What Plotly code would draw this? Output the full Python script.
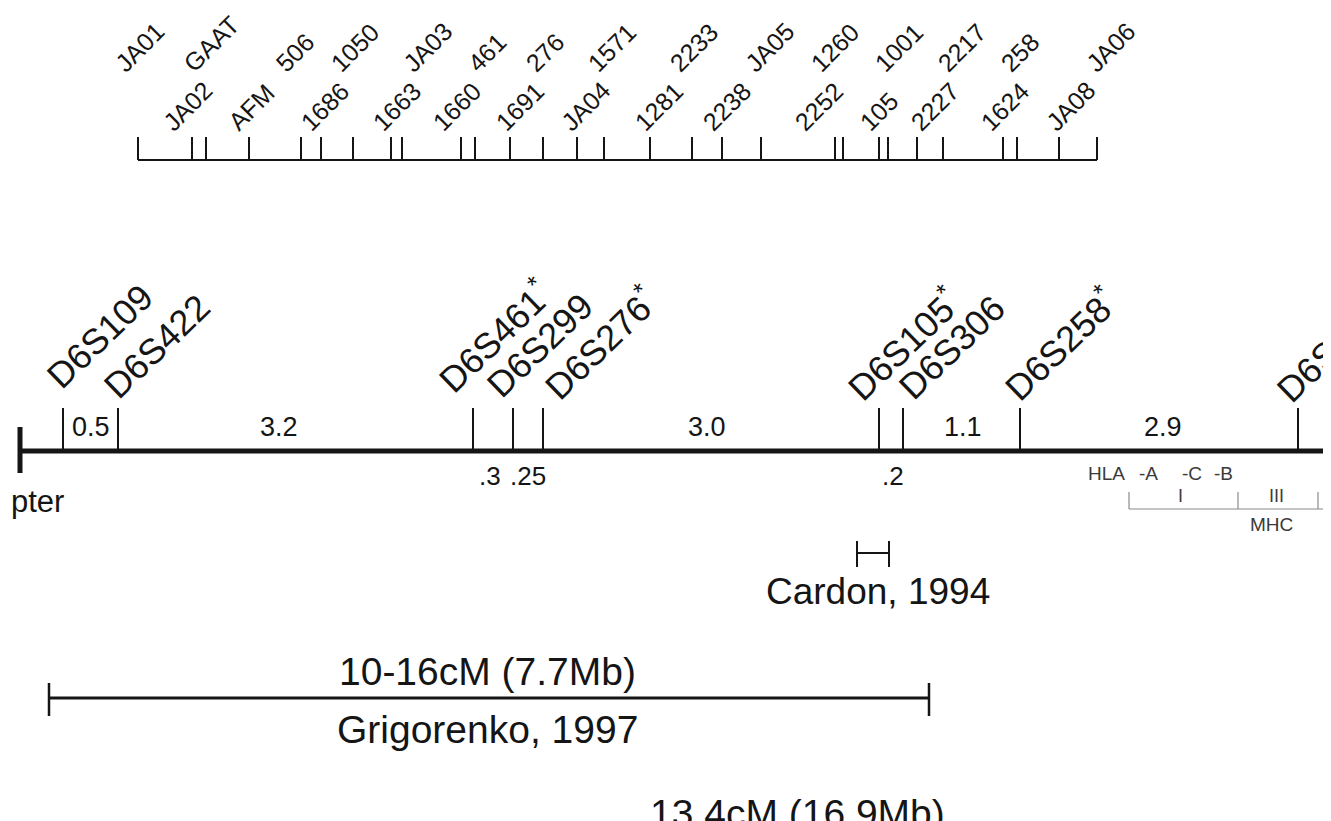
import math
import plotly.graph_objects as go

# ---------------- data ----------------
# physical map (top ruler): marker names in order, positions along the map
ruler_markers = ["JA01", "JA02", "GAAT", "AFM", "506", "1686", "1050", "1663", "JA03",
                 "1660", "461", "1691", "276", "JA04", "1571", "1281", "2233", "2238",
                 "JA05", "2252", "1260", "105", "1001", "2227", "2217", "1624", "258",
                 "JA08", "JA06"]
ruler_pos = [138, 192, 206, 249, 301, 321, 353, 391, 402, 461, 475, 510, 543, 577, 604,
             650, 692, 722, 761, 835, 843, 879, 888, 917, 943, 1003, 1017, 1059, 1097]

# genetic map (main chromosome line)
main_markers = ["D6S109", "D6S422", "D6S461<sup>*</sup>", "D6S299", "D6S276<sup>*</sup>",
                "D6S105<sup>*</sup>", "D6S306", "D6S258<sup>*</sup>", "D6S273"]
main_pos = [63, 118, 473, 513, 543, 879, 903, 1020, 1298]

interval_cm = ["0.5", "3.2", "3.0", "1.1", "2.9"]
small_gap_cm = [".3", ".25", ".2"]

hla_genes = ["HLA", "-A", "-C", "-B"]
mhc_classes = ["I", "III"]
mhc_bounds = [1129, 1238, 1318]

cardon_span = [857, 889]
grigorenko_span = [49, 929]
study_texts = ["Cardon, 1994", "10-16cM (7.7Mb)", "Grigorenko, 1997", "13.4cM (16.9Mb)"]

# ---------------- layout helpers (positions / styles) ----------------
ruler_label_x = [117, 165, 185, 230, 278, 303, 333, 375, 405, 435, 470, 498, 528, 563, 590,
                 637, 672, 705, 747, 797, 813, 862, 877, 913, 940, 983, 1003, 1048, 1088]
ruler_label_y = [70 if i % 2 == 0 else 129 for i in range(len(ruler_markers))]
main_label_x = [50, 107, 439, 490, 545, 848, 902, 1005, 1280]
main_label_y = [386, 396, 390, 395, 397, 398, 397, 398, 400]
interval_x = [91, 279, 707, 963, 1163]
small_gap_x = [490, 528, 893]
hla_x = [1106, 1148, 1192, 1223]
mhc_label_x = [1180, 1276]

FONT = "Liberation Sans, Arial, Helvetica, sans-serif"
INK = "#151515"
GRAY = "#8a8a8a"
PAGE_PAD = 8  # the page body has a default 8px margin

fig = go.Figure()


def seg_trace(xs, ys, width, color=INK):
    fig.add_trace(go.Scatter(x=xs, y=ys, mode="lines", hoverinfo="skip",
                             line=dict(color=color, width=width), showlegend=False))


def ticks(xpos, y0, y1, width, color=INK):
    xs, ys = [], []
    for x in xpos:
        xs += [x, x, None]
        ys += [y0, y1, None]
    seg_trace(xs, ys, width, color)


def text(t, x, y, size, color=INK, xanchor="center", yanchor="middle"):
    fig.add_annotation(x=x, y=y, text=t, showarrow=False, xanchor=xanchor, yanchor=yanchor,
                       font=dict(family=FONT, size=size, color=color))


def rot_text(t, bx, by, size, angle):
    """Place rotated text so that its baseline starts near (bx, by)."""
    th = math.radians(angle)
    cx = bx - (0.905 * size + 1) * math.sin(th) + 0.26 * size
    cy = by + (0.212 * size + 1) * math.cos(th) + 0.17 * size + 1
    fig.add_annotation(x=cx, y=cy, text=t, showarrow=False, textangle=-angle,
                       xanchor="left", yanchor="bottom",
                       font=dict(family=FONT, size=size, color=INK))


# ---- top ruler ----
seg_trace([ruler_pos[0], ruler_pos[-1]], [160, 160], 2)
ticks(ruler_pos, 137, 160, 2)
for name, lx, ly in zip(ruler_markers, ruler_label_x, ruler_label_y):
    rot_text(name, lx, ly, 25, 45)

# ---- main chromosome ----
seg_trace([20, 1340], [451, 451], 5)
seg_trace([20, 20], [427, 473], 5)
ticks(main_pos, 408, 451, 2)
for name, lx, ly in zip(main_markers, main_label_x, main_label_y):
    rot_text(name, lx, ly, 36, 44)
for t, x in zip(interval_cm, interval_x):
    text(t, x, 427, 27)
for t, x in zip(small_gap_cm, small_gap_x):
    text(t, x, 476, 26)
text("pter", 9, 501, 31, xanchor="left")

# ---- HLA / MHC ----
for t, x in zip(hla_genes, hla_x):
    text(t, x, 473, 19, color="#3a3a3a")
seg_trace([mhc_bounds[0], 1340], [509, 509], 1.2, GRAY)
ticks(mhc_bounds, 492, 509, 1.2, GRAY)
for t, x in zip(mhc_classes, mhc_label_x):
    text(t, x, 496, 18, color="#3a3a3a")
text("MHC", 1271, 524, 19, color="#3a3a3a")

# ---- studies ----
seg_trace(cardon_span, [553, 553], 2)
ticks(cardon_span, 541, 567, 2)
text(study_texts[0], sum(cardon_span) / 2 + 5, 591, 37)

seg_trace(grigorenko_span, [698, 698], 3)
ticks(grigorenko_span, 683, 716, 2.5)
text(study_texts[1], 487, 671, 39)
text(study_texts[2], 487, 729, 39)
text(study_texts[3], 797, 813, 39)

fig.update_layout(
    width=1331 - PAGE_PAD, height=821 - PAGE_PAD,
    margin=dict(l=0, r=0, t=0, b=0),
    paper_bgcolor="white", plot_bgcolor="white",
    showlegend=False,
    xaxis=dict(range=[PAGE_PAD, 1331], visible=False, fixedrange=True),
    yaxis=dict(range=[821, PAGE_PAD], visible=False, fixedrange=True),
)

fig.write_html("out.html")
